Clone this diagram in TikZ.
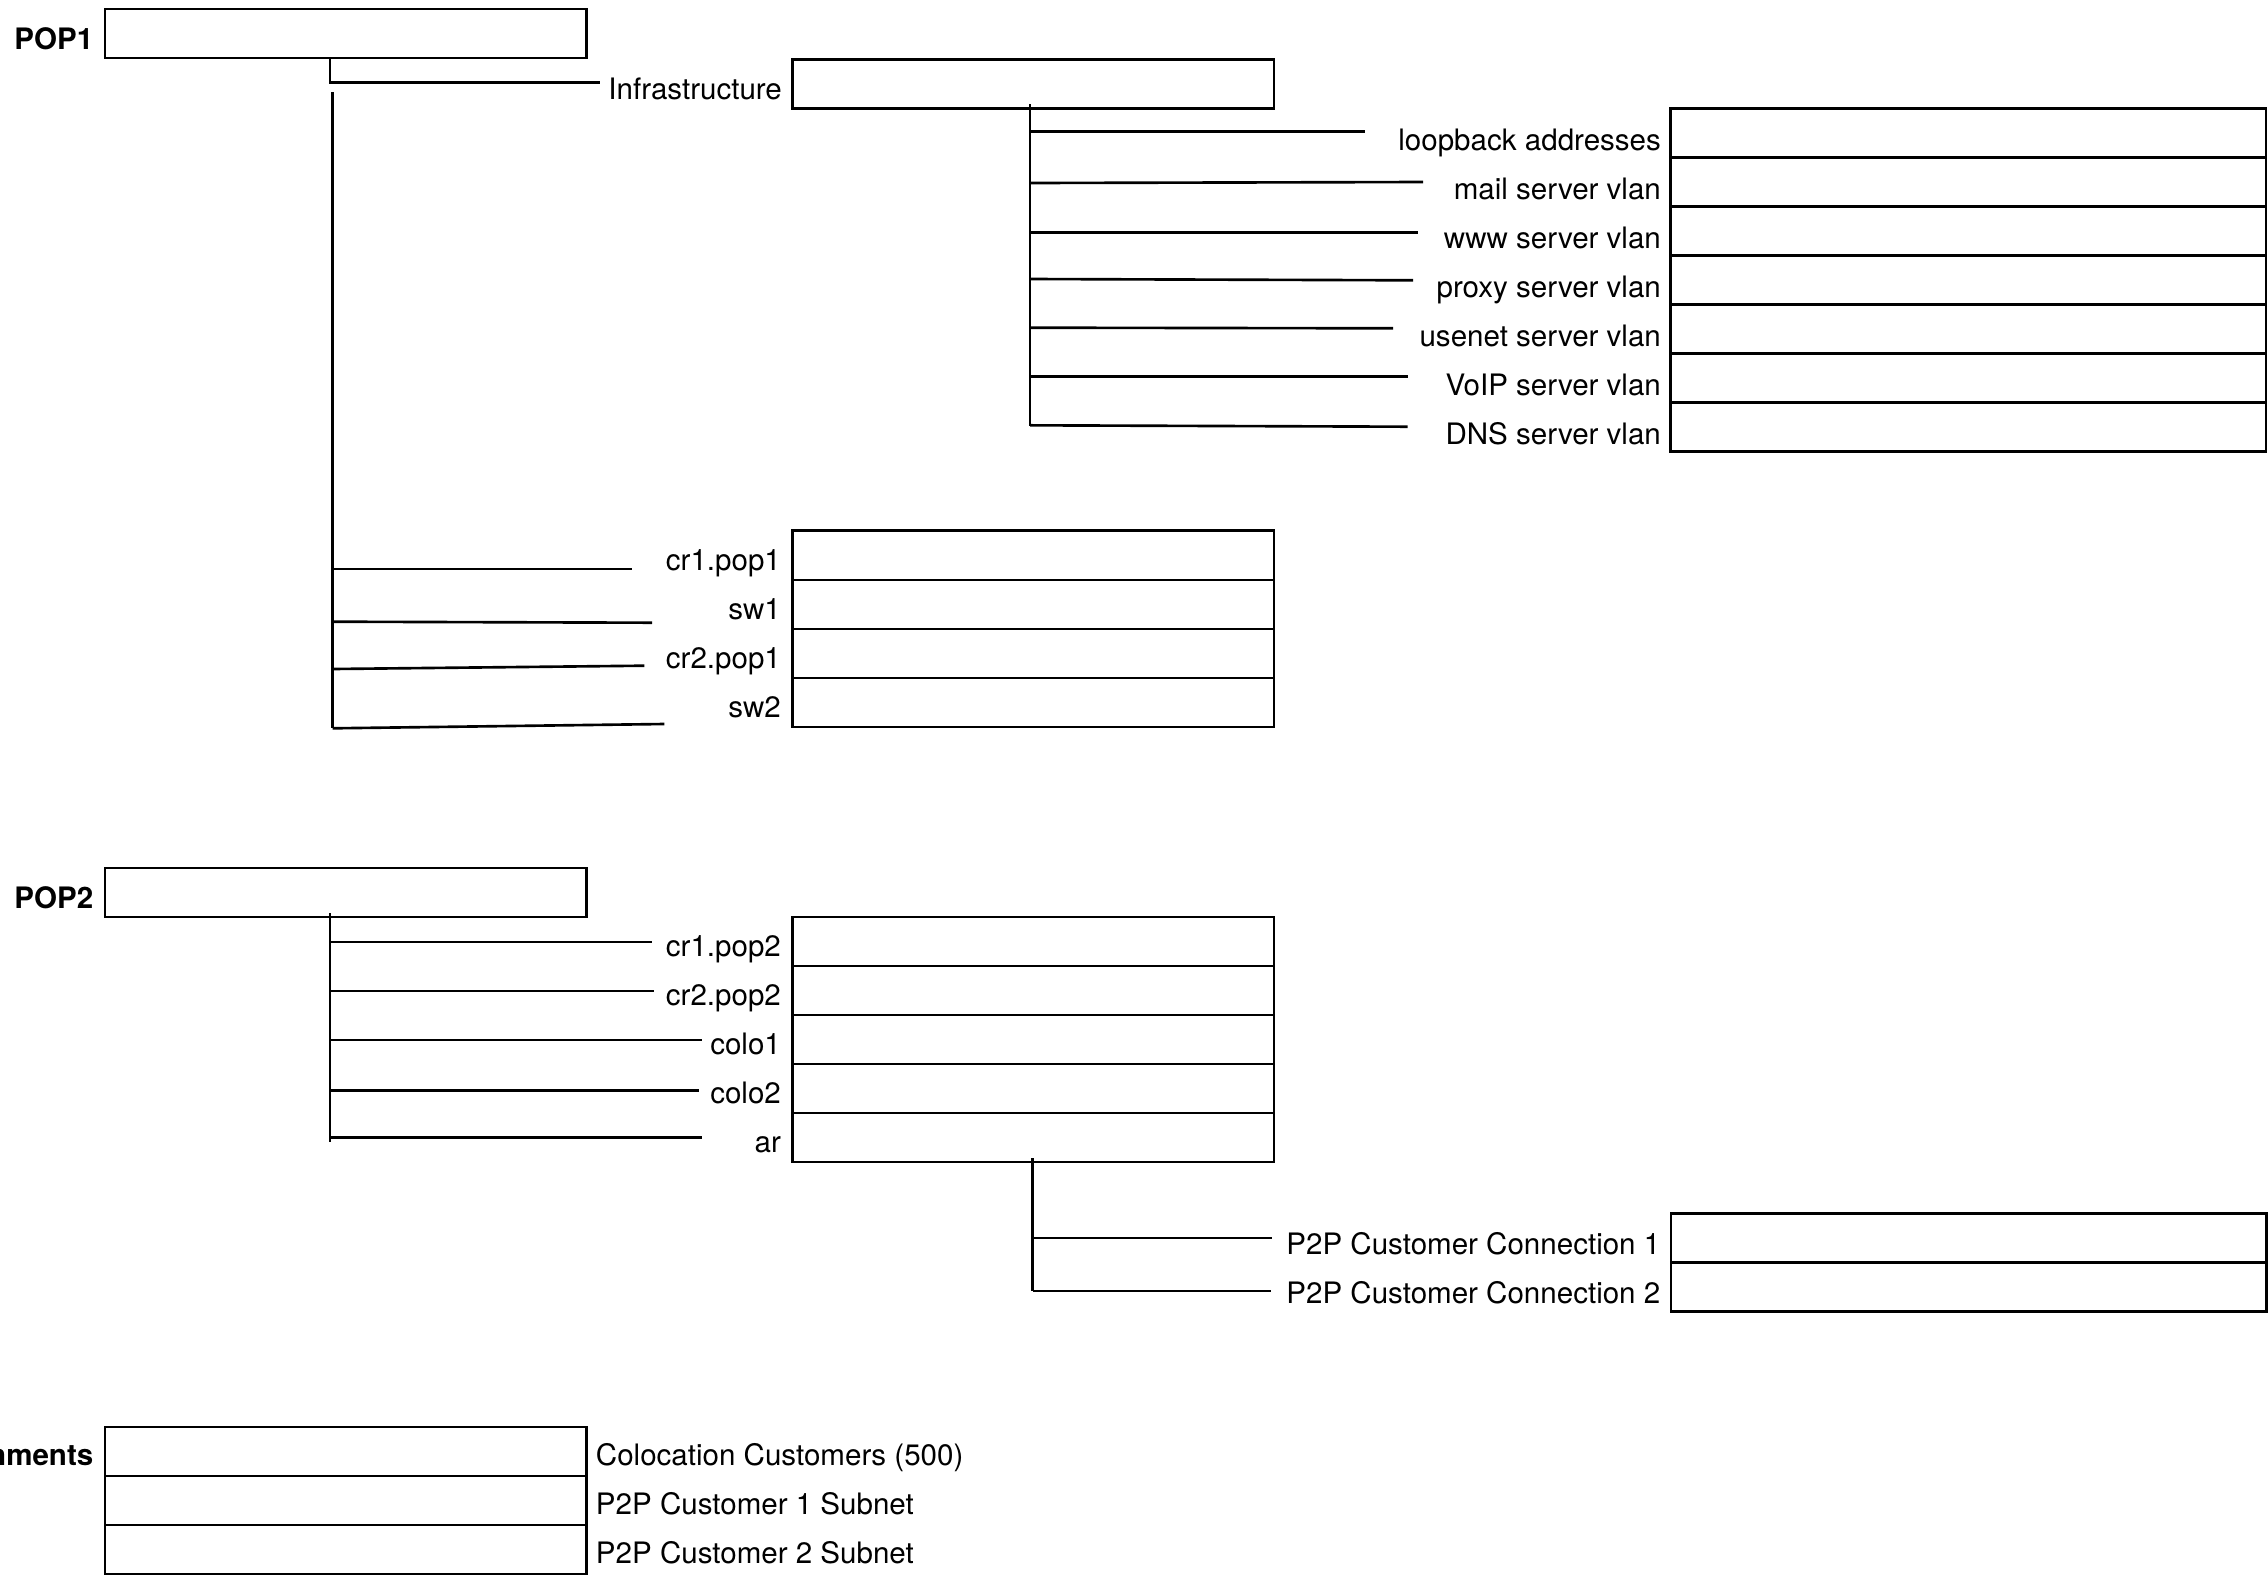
\documentclass[tikz,border=0pt]{standalone}
\usepackage{fontspec}
\setmainfont{TeX Gyre Heros}
\usetikzlibrary{positioning}

\newcommand\labelsize{\fontsize{8.4}{10}\selectfont}

\tikzset{
  cell/.style={draw, line width=0.75pt, inner sep=0pt, outer sep=0pt, minimum height=4.9mm},
  shortcell/.style={cell, minimum width=48.1mm},
  longcell/.style={cell, minimum width=59.5mm},
  tag/.style={anchor=base east, inner sep=0pt},
  head/.style={tag, font=\labelsize\bfseries},
  note/.style={anchor=base west, inner sep=0pt},
  link/.style={line width=0.75pt},
}

\begin{document}
\begin{tikzpicture}[x=0.01cm, y=-0.01cm, font=\labelsize]
  \useasboundingbox (0,0) rectangle (2268,1575);

  % POP1 and its infrastructure blocks
  \node[shortcell, anchor=north west] (pop1) at (105,9) {};
  \node[head] (pop1-l) at ([xshift=-1.1mm, yshift=0.9mm]pop1.south west) {POP1};
  \node[shortcell, anchor=north west] (infra) at (792.6,59.3) {};
  \node[tag] (infra-l) at ([xshift=-1mm, yshift=0.9mm]infra.south west) {Infrastructure};

  \node[longcell, anchor=north west] (loop) at (1670.6,108.5) {};
  \node[longcell, below=0pt of loop] (mailvl) {};
  \node[longcell, below=0pt of mailvl] (wwwvl) {};
  \node[longcell, below=0pt of wwwvl] (proxyvl) {};
  \node[longcell, below=0pt of proxyvl] (usenetvl) {};
  \node[longcell, below=0pt of usenetvl] (voipvl) {};
  \node[longcell, below=0pt of voipvl] (dnsvl) {};
  \node[tag] (loop-l) at ([xshift=-0.9mm, yshift=0.7mm]loop.south west) {loopback addresses};
  \node[tag] (mailvl-l) at ([xshift=-0.9mm, yshift=0.7mm]mailvl.south west) {mail server vlan};
  \node[tag] (wwwvl-l) at ([xshift=-0.9mm, yshift=0.7mm]wwwvl.south west) {www server vlan};
  \node[tag] (proxyvl-l) at ([xshift=-0.9mm, yshift=0.7mm]proxyvl.south west) {proxy server vlan};
  \node[tag] (usenetvl-l) at ([xshift=-0.9mm, yshift=0.7mm]usenetvl.south west) {usenet server vlan};
  \node[tag] (voipvl-l) at ([xshift=-0.9mm, yshift=0.7mm]voipvl.south west) {VoIP server vlan};
  \node[tag] (dnsvl-l) at ([xshift=-0.9mm, yshift=0.7mm]dnsvl.south west) {DNS server vlan};

  \node[shortcell, anchor=north west] (cr1p1) at (792.6,530.8) {};
  \node[shortcell, below=0pt of cr1p1] (sw1) {};
  \node[shortcell, below=0pt of sw1] (cr2p1) {};
  \node[shortcell, below=0pt of cr2p1] (sw2) {};
  \node[tag] (cr1p1-l) at ([xshift=-1.1mm, yshift=0.9mm]cr1p1.south west) {cr1.pop1};
  \node[tag] (sw1-l) at ([xshift=-1.1mm, yshift=0.9mm]sw1.south west) {sw1};
  \node[tag] (cr2p1-l) at ([xshift=-1.1mm, yshift=0.9mm]cr2p1.south west) {cr2.pop1};
  \node[tag] (sw2-l) at ([xshift=-1.1mm, yshift=0.9mm]sw2.south west) {sw2};

  % POP2
  \node[shortcell, anchor=north west] (pop2) at (105,868) {};
  \node[head] (pop2-l) at ([xshift=-1.1mm, yshift=0.9mm]pop2.south west) {POP2};
  \node[shortcell, anchor=north west] (cr1p2) at (792.6,917) {};
  \node[shortcell, below=0pt of cr1p2] (cr2p2) {};
  \node[shortcell, below=0pt of cr2p2] (colo1) {};
  \node[shortcell, below=0pt of colo1] (colo2) {};
  \node[shortcell, below=0pt of colo2] (ar) {};
  \node[tag] (cr1p2-l) at ([xshift=-1.1mm, yshift=1mm]cr1p2.south west) {cr1.pop2};
  \node[tag] (cr2p2-l) at ([xshift=-1.1mm, yshift=1mm]cr2p2.south west) {cr2.pop2};
  \node[tag] (colo1-l) at ([xshift=-1.1mm, yshift=1mm]colo1.south west) {colo1};
  \node[tag] (colo2-l) at ([xshift=-1.1mm, yshift=1mm]colo2.south west) {colo2};
  \node[tag] (ar-l) at ([xshift=-1.1mm, yshift=1mm]ar.south west) {ar};

  \node[longcell, anchor=north west] (ptp1) at (1671,1213.5) {};
  \node[longcell, below=0pt of ptp1] (ptp2) {};
  \node[tag] (ptp1-l) at ([xshift=-1mm, yshift=0.8mm]ptp1.south west) {P2P Customer Connection 1};
  \node[tag] (ptp2-l) at ([xshift=-1mm, yshift=0.8mm]ptp2.south west) {P2P Customer Connection 2};

  % customer subnets
  \node[shortcell, anchor=north west] (colocust) at (105,1427) {};
  \node[shortcell, below=0pt of colocust] (ptpnet1) {};
  \node[shortcell, below=0pt of ptpnet1] (ptpnet2) {};
  \node[head] (asgn-l) at ([xshift=-1.1mm, yshift=1.1mm]colocust.south west) {nments};
  \node[note] (colocust-l) at ([xshift=0.9mm, yshift=1.1mm]colocust.south east) {Colocation Customers (500)};
  \node[note] (ptpnet1-l) at ([xshift=0.9mm, yshift=1.1mm]ptpnet1.south east) {P2P Customer 1 Subnet};
  \node[note] (ptpnet2-l) at ([xshift=0.9mm, yshift=1.1mm]ptpnet2.south east) {P2P Customer 2 Subnet};

  % tree lines
  \coordinate (pop1-knee) at (330,82.5);
  \coordinate (infra-in) at (600,82.5);
  \draw[link] (pop1.south -| pop1-knee) -- (pop1-knee) -- (infra-in);

  \coordinate (pop1-top) at (332.7,92);
  \coordinate (pop1-bot) at (332.7,728.3);
  \draw[link] (pop1-top) -- (pop1-bot);
  \foreach \n/\ya/\xb/\yb in {cr1p1/569/632/569, sw1/621.7/652/622.7,
      cr2p1/669/644.4/665.7, sw2/728.3/664.3/724} {
    \coordinate (\n-a) at (332.7,\ya);
    \coordinate (\n-b) at (\xb,\yb);
    \draw[link] (\n-a) -- (\n-b);
  }

  \coordinate (infra-top) at (1030,104);
  \coordinate (infra-bot) at (1030,426);
  \draw[link] (infra-top) -- (infra-bot);
  \foreach \n/\ya/\xb/\yb in {loop/131.7/1365/131.7, mailvl/183/1423/182,
      wwwvl/232.3/1418/232.3, proxyvl/279/1413/280.3, usenetvl/327.7/1393/328.3,
      voipvl/376.3/1407.6/376.3, dnsvl/425.3/1407.6/426.7} {
    \coordinate (\n-a) at (1030,\ya);
    \coordinate (\n-b) at (\xb,\yb);
    \draw[link] (\n-a) -- (\n-b);
  }

  \coordinate (pop2-top) at (330,913);
  \coordinate (pop2-bot) at (330,1142);
  \draw[link] (pop2-top) -- (pop2-bot);
  \foreach \n/\ya/\xb in {cr1p2/942/652, cr2p2/991/654, colo1/1040/701.5,
      colo2/1090.7/699, ar/1137.3/701.5} {
    \coordinate (\n-a) at (330,\ya);
    \coordinate (\n-b) at (\xb,\ya);
    \draw[link] (\n-a) -- (\n-b);
  }

  \coordinate (ar-top) at (1032.7,1158);
  \coordinate (ar-bot) at (1032.7,1291);
  \draw[link] (ar-top) -- (ar-bot);
  \foreach \n/\ya/\xb in {ptp1/1238/1272, ptp2/1291/1271} {
    \coordinate (\n-a) at (1032.7,\ya);
    \coordinate (\n-b) at (\xb,\ya);
    \draw[link] (\n-a) -- (\n-b);
  }
\end{tikzpicture}
\end{document}
